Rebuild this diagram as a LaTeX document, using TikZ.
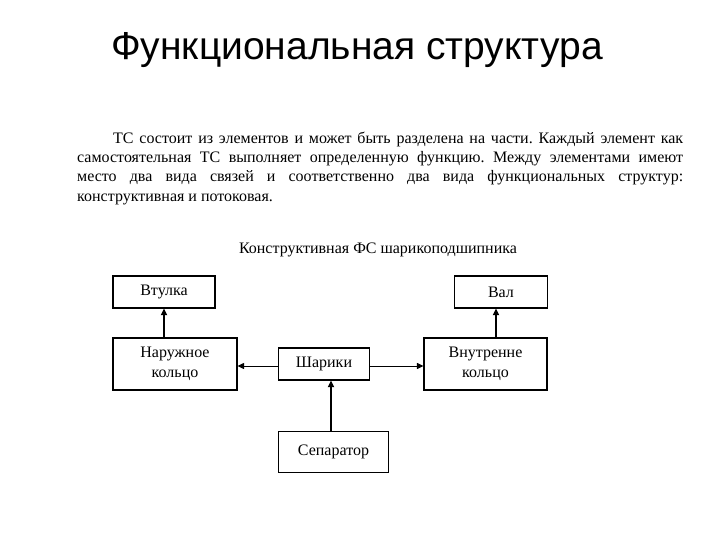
\documentclass[tikz,border=0pt]{standalone}
\usepackage{fontspec}
\setmainfont{Liberation Serif}
\newfontfamily\titlefont{Liberation Sans}
\usetikzlibrary{arrows.meta}
\frenchspacing
\tikzset{
  box/.style={draw, line width=1.1pt, rectangle, inner sep=0pt, align=center,
    font=\fontsize{16}{20}\selectfont},
  arr/.style={-{Triangle[length=6.5pt,width=6pt]}},
  thick arr/.style={arr, line width=2pt},
  thin arr/.style={arr, line width=1pt}
}
\begin{document}
\begin{tikzpicture}[x=1pt,y=-1pt]
\useasboundingbox (0,0) rectangle (720,540);
\node[anchor=base, font=\titlefont\fontsize{39}{44}\selectfont] (title) at (357,60) {Функциональная структура};
\node[anchor=north west, inner sep=0pt, text width=606pt, align=justify,
  font=\fontsize{16}{19.3}\selectfont] (para) at (77,131.5)
  {\hspace*{36pt}ТС состоит из элементов и может быть разделена на части. Каждый элемент как\linebreak
   самостоятельная ТС выполняет определенную функцию. Между элементами имеют\linebreak
   место два вида связей и соответственно два вида функциональных структур:\linebreak
   конструктивная и потоковая.};
\node[anchor=base, font=\fontsize{16}{19}\selectfont] (sub) at (378,253) {Конструктивная ФС шарикоподшипника};
\node[box, minimum width=102pt, minimum height=32pt] (vt) at (164,292) {Втулка};
\node[box, minimum width=93pt, minimum height=32pt] (val) at (501,292) {Вал};
\node[box, minimum width=124pt, minimum height=52pt] (nar) at (175,364) {Наружное\\кольцо};
\node[box, minimum width=123pt, minimum height=52pt] (vn) at (485.5,364) {Внутренне\\кольцо};
\node[box, minimum width=91pt, minimum height=32pt] (sh) at (324,364) {Шарики};
\node[box, minimum width=110pt, minimum height=41pt] (sep) at (333.5,452) {Сепаратор};
\draw[thick arr] (vt.south |- nar.north) -- (vt.south);
\draw[thick arr] ([xshift=-5pt]val.south |- vn.north) -- ([xshift=-5pt]val.south);
\draw[thick arr] ([xshift=-2.5pt]sep.north) -- ([xshift=-2.5pt]sep.north |- sh.south);
\draw[thin arr] ([yshift=-2pt]sh.west) -- ([yshift=-2pt]sh.west -| nar.east);
\draw[thin arr] ([yshift=-2pt]sh.east) -- ([yshift=-2pt]sh.east -| vn.west);
\end{tikzpicture}
\end{document}
